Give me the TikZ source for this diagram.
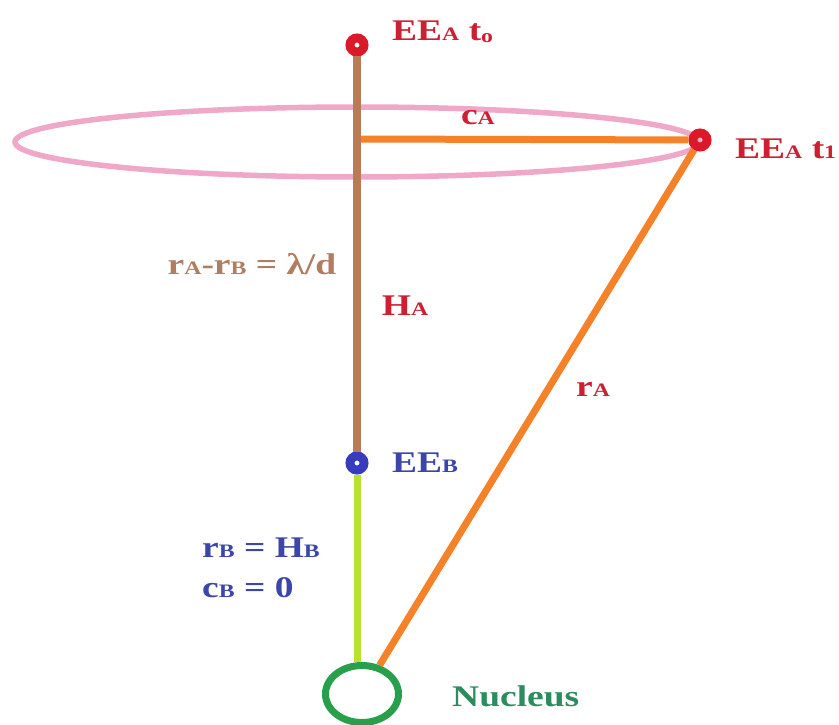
\documentclass[tikz,border=0pt]{standalone}
\usepackage{fontspec}
\setmainfont{Liberation Serif}[FakeStretch=1.25]
\usepackage{tikz}
\usetikzlibrary{shapes.geometric}
\definecolor{eered}{RGB}{220,25,40}
\definecolor{labred}{RGB}{205,30,50}
\definecolor{rayorange}{RGB}{245,130,40}
\definecolor{orbitpink}{RGB}{240,168,200}
\definecolor{axisbrown}{RGB}{185,122,88}
\definecolor{labbrown}{RGB}{175,125,95}
\definecolor{eeblue}{RGB}{55,60,190}
\definecolor{labblue}{RGB}{60,70,170}
\definecolor{stemgreen}{RGB}{185,225,50}
\definecolor{nucgreen}{RGB}{40,160,75}
\definecolor{labgreen}{RGB}{45,140,95}
\newcommand{\lo}[1]{{\fontsize{19}{19}\selectfont #1}}

\begin{document}
\begin{tikzpicture}[
    x=1pt, y=-1pt,
    font=\bfseries\fontsize{30}{36}\selectfont,
    ring/.style={circle, draw, line width=9pt, minimum size=14pt, inner sep=0pt},
    eeA/.style={ring, draw=eered},
    eeB/.style={ring, draw=eeblue},
    nucleus/.style={ellipse, draw=nucgreen, line width=7pt, minimum width=73pt, minimum height=57pt, inner sep=0pt},
    orbit/.style={draw=orbitpink, line width=5.5pt},
    axis/.style={draw=axisbrown, line width=8pt},
    ray/.style={draw=rayorange, line width=7pt},
    stem/.style={draw=stemgreen, line width=7pt},
    lab/.style={inner sep=0pt}
  ]
    \useasboundingbox (0,0) rectangle (839,725);
    \fill[white] (0,0) rectangle (839,725);

    \draw[orbit] (357,142) ellipse [x radius=342, y radius=35];

    \node[eeA] (eeat0) at (357,45) {};
    \node[eeA] (eeat1) at (700,140) {};
    \node[eeB] (eeb) at (357,463) {};
    \node[nucleus] (nuc) at (362,694) {};
    \coordinate (foot) at (361,139);

    \draw[axis] (eeat0) -- (eeb);
    \draw[stem] (eeb) -- (eeb |- nuc.north);
    \draw[ray] (foot) -- (eeat1);
    \draw[ray] (eeat1) -- (nuc);

    \node[lab, text=labred, anchor=base west] (t0lab) at (392,41) {EE\lo{A} t\raisebox{-2pt}{\lo{o}}};
    \node[lab, text=labred, anchor=base west] (t1lab) at (735,158) {EE\lo{A} t\lo{1}};
    \node[lab, text=labred] (calab) at (478,118) {c\lo{A}};
    \node[lab, text=labbrown] (difflab) at (252,264) {r\lo{A}-r\lo{B} = λ/d};
    \node[lab, text=labred] (halab) at (405,306) {H\lo{A}};
    \node[lab, text=labred] (ralab) at (593,389) {r\lo{A}};
    \node[lab, text=labblue, anchor=west] (eeblab) at (392,463) {EE\lo{B}};
    \node[lab, text=labblue, anchor=base west, align=left] (rblab) at (202,597) {r\lo{B} = H\lo{B}\\[4pt]c\lo{B} = 0};
    \node[lab, text=labgreen, anchor=base west] (nuclab) at (452,706) {Nucleus};

  \end{tikzpicture}
\end{document}
